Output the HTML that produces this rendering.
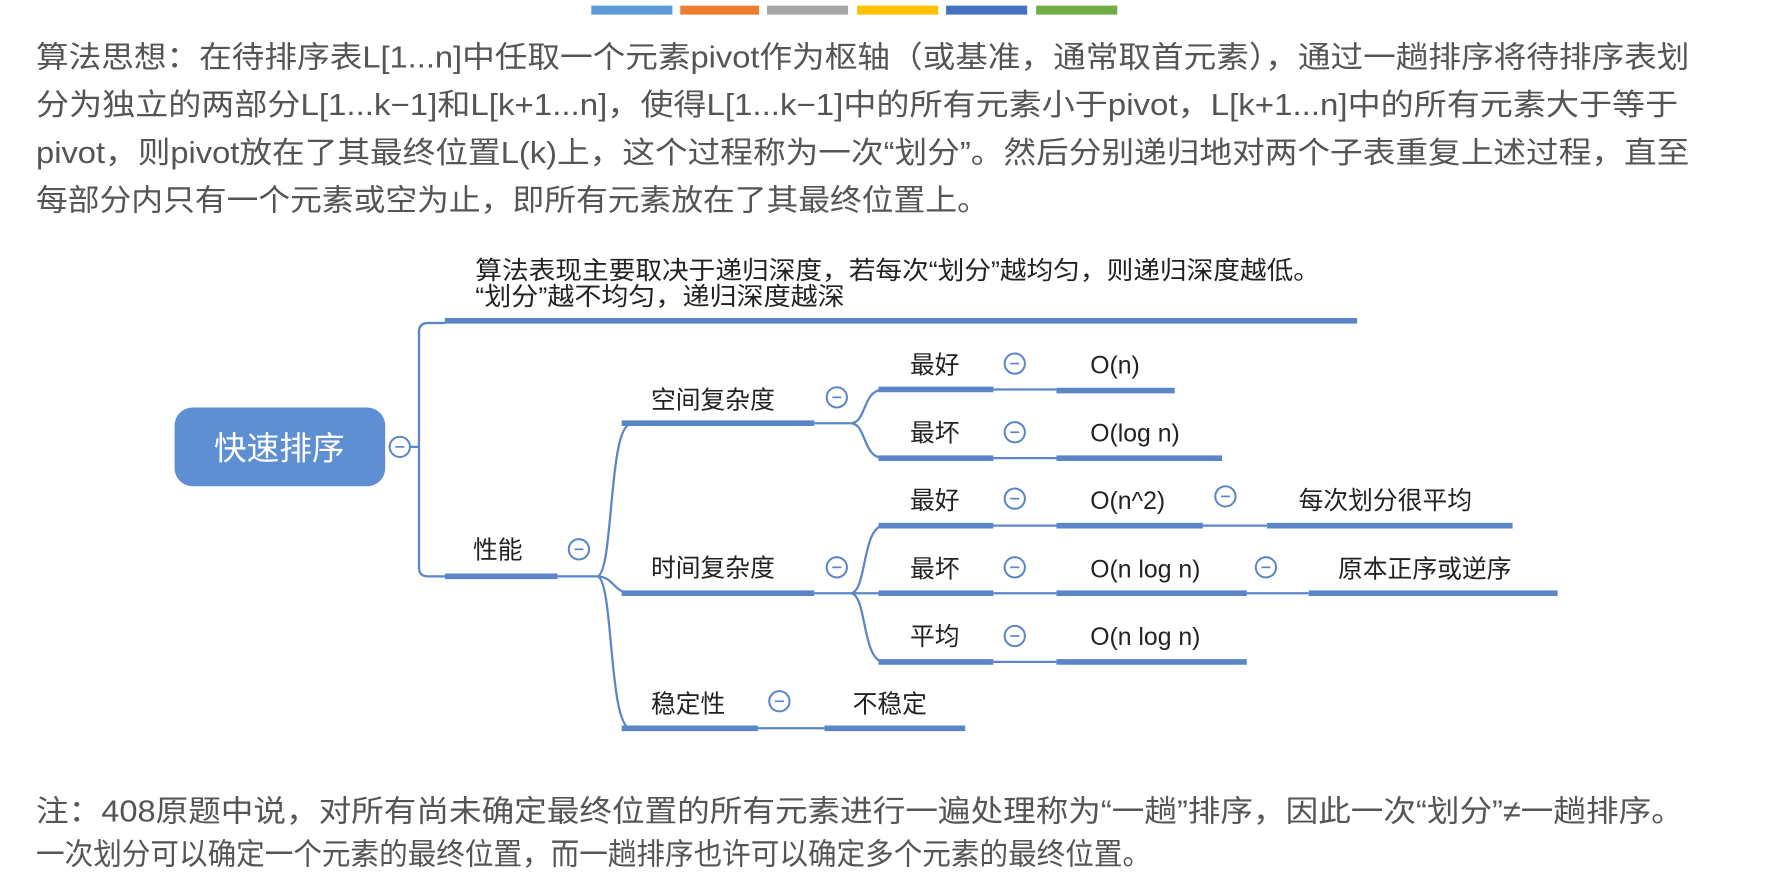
<!DOCTYPE html>
<html><head><meta charset="utf-8"><style>
html,body{margin:0;padding:0;background:#fff;}
svg{display:block;}
.p{font-family:"Liberation Sans","Noto Sans CJK SC",sans-serif;font-size:27px;fill:#555;}
.t{font-family:"Liberation Sans","Noto Sans CJK SC",sans-serif;font-size:22px;fill:#222;}
.u{stroke:#5a86c8;stroke-width:5;}
.c{stroke:#5a86c8;stroke-width:2;fill:none;}
.ci{fill:#fff;stroke:#5a86c8;stroke-width:1.8;}
</style></head><body>
<svg width="1766" height="878" viewBox="0 0 1568 780" preserveAspectRatio="none" xmlns="http://www.w3.org/2000/svg">
<rect x="525" y="5" width="72" height="8" fill="#5b9bd5"/>
<rect x="604" y="5" width="70" height="8" fill="#ed7d31"/>
<rect x="681" y="5" width="72" height="8" fill="#a5a5a5"/>
<rect x="761" y="5" width="72" height="8" fill="#ffc000"/>
<rect x="840" y="5" width="72" height="8" fill="#4472c4"/>
<rect x="920" y="5" width="72" height="8" fill="#70ad47"/>

<text class="p" x="32" y="60" textLength="1468" lengthAdjust="spacingAndGlyphs">算法思想：在待排序表L[1...n]中任取一个元素pivot作为枢轴（或基准，通常取首元素），通过一趟排序将待排序表划</text>
<text class="p" x="32" y="102" textLength="1458" lengthAdjust="spacingAndGlyphs">分为独立的两部分L[1...k−1]和L[k+1...n]，使得L[1...k−1]中的所有元素小于pivot，L[k+1...n]中的所有元素大于等于</text>
<text class="p" x="32" y="145" textLength="1468" lengthAdjust="spacingAndGlyphs">pivot，则pivot放在了其最终位置L(k)上，这个过程称为一次“划分”。然后分别递归地对两个子表重复上述过程，直至</text>
<text class="p" x="32" y="187" textLength="846" lengthAdjust="spacingAndGlyphs">每部分内只有一个元素或空为止，即所有元素放在了其最终位置上。</text>

<rect x="155" y="362" width="187" height="70" rx="16" fill="#5e8fd2"/>
<text x="248" y="408" text-anchor="middle" style="font-family:'Liberation Sans','Noto Sans CJK SC',sans-serif;font-size:29px;fill:#fff;">快速排序</text>
<line class="c" x1="345" y1="397" x2="372" y2="397"/>
<circle class="ci" cx="355" cy="397" r="9"/><line x1="351" y1="397" x2="359" y2="397" stroke="#5a86c8" stroke-width="1.5"/>

<path class="c" d="M395 287 H380 Q372 287 372 295 V504 Q372 512 380 512 H395"/>
<text class="t" x="422" y="248" textLength="750" lengthAdjust="spacingAndGlyphs">算法表现主要取决于递归深度，若每次“划分”越均匀，则递归深度越低。</text>
<text class="t" x="422" y="271" textLength="328" lengthAdjust="spacingAndGlyphs">“划分”越不均匀，递归深度越深</text>
<line class="u" x1="395" y1="285" x2="1205" y2="285"/>

<text class="t" x="420" y="496">性能</text>
<line class="u" x1="395" y1="512" x2="495" y2="512"/>
<line class="c" x1="495" y1="512" x2="530" y2="512"/>
<path class="c" d="M530 512 C545 512 540 377 560 377 M530 512 C545 512 545 527 560 527 M530 512 C545 512 540 647 560 647"/>

<text class="t" x="578" y="363">空间复杂度</text>
<line class="u" x1="552" y1="376" x2="723" y2="376"/>
<line class="c" x1="723" y1="376" x2="755" y2="376"/>
<path class="c" d="M755 376 C770 376 765 346 785 346 M755 376 C770 376 765 407 785 407"/>

<text class="t" x="808" y="332">最好</text><line class="u" x1="780" y1="346" x2="882" y2="346"/>
<line class="c" x1="882" y1="346" x2="938" y2="346"/>
<text class="t" x="968" y="332">O(n)</text><line class="u" x1="938" y1="347" x2="1043" y2="347"/>
<text class="t" x="808" y="392">最坏</text><line class="u" x1="780" y1="407" x2="882" y2="407"/>
<line class="c" x1="882" y1="407" x2="938" y2="407"/>
<text class="t" x="968" y="392">O(log n)</text><line class="u" x1="938" y1="407" x2="1085" y2="407"/>

<text class="t" x="578" y="512">时间复杂度</text>
<line class="u" x1="552" y1="527" x2="723" y2="527"/>
<line class="c" x1="723" y1="527" x2="755" y2="527"/>
<path class="c" d="M755 527 C770 527 765 467 785 467 M755 527 H785 M755 527 C770 527 765 588 785 588"/>

<text class="t" x="808" y="452">最好</text><line class="u" x1="780" y1="467" x2="882" y2="467"/>
<line class="c" x1="882" y1="467" x2="938" y2="467"/>
<text class="t" x="968" y="452">O(n^2)</text><line class="u" x1="938" y1="467" x2="1068" y2="467"/>
<line class="c" x1="1068" y1="467" x2="1125" y2="467"/>
<text class="t" x="1153" y="452">每次划分很平均</text><line class="u" x1="1125" y1="467" x2="1343" y2="467"/>

<text class="t" x="808" y="513">最坏</text><line class="u" x1="780" y1="527" x2="882" y2="527"/>
<line class="c" x1="882" y1="527" x2="938" y2="527"/>
<text class="t" x="968" y="513">O(n log n)</text><line class="u" x1="938" y1="527" x2="1107" y2="527"/>
<line class="c" x1="1107" y1="527" x2="1162" y2="527"/>
<text class="t" x="1188" y="513">原本正序或逆序</text><line class="u" x1="1162" y1="527" x2="1383" y2="527"/>

<text class="t" x="808" y="573">平均</text><line class="u" x1="780" y1="588" x2="882" y2="588"/>
<line class="c" x1="882" y1="588" x2="938" y2="588"/>
<text class="t" x="968" y="573">O(n log n)</text><line class="u" x1="938" y1="588" x2="1107" y2="588"/>

<text class="t" x="578" y="633">稳定性</text>
<line class="u" x1="552" y1="647" x2="673" y2="647"/>
<line class="c" x1="673" y1="647" x2="732" y2="647"/>
<text class="t" x="757" y="633">不稳定</text><line class="u" x1="732" y1="647" x2="857" y2="647"/>

<g>
<circle class="ci" cx="514" cy="488" r="9"/><line x1="510" y1="488" x2="518" y2="488" stroke="#5a86c8" stroke-width="1.5"/>
<circle class="ci" cx="743" cy="353" r="9"/><line x1="739" y1="353" x2="747" y2="353" stroke="#5a86c8" stroke-width="1.5"/>
<circle class="ci" cx="743" cy="504" r="9"/><line x1="739" y1="504" x2="747" y2="504" stroke="#5a86c8" stroke-width="1.5"/>
<circle class="ci" cx="901" cy="323" r="9"/><line x1="897" y1="323" x2="905" y2="323" stroke="#5a86c8" stroke-width="1.5"/>
<circle class="ci" cx="901" cy="384" r="9"/><line x1="897" y1="384" x2="905" y2="384" stroke="#5a86c8" stroke-width="1.5"/>
<circle class="ci" cx="901" cy="443" r="9"/><line x1="897" y1="443" x2="905" y2="443" stroke="#5a86c8" stroke-width="1.5"/>
<circle class="ci" cx="901" cy="504" r="9"/><line x1="897" y1="504" x2="905" y2="504" stroke="#5a86c8" stroke-width="1.5"/>
<circle class="ci" cx="901" cy="565" r="9"/><line x1="897" y1="565" x2="905" y2="565" stroke="#5a86c8" stroke-width="1.5"/>
<circle class="ci" cx="1088" cy="441" r="9"/><line x1="1084" y1="441" x2="1092" y2="441" stroke="#5a86c8" stroke-width="1.5"/>
<circle class="ci" cx="1124" cy="504" r="9"/><line x1="1120" y1="504" x2="1128" y2="504" stroke="#5a86c8" stroke-width="1.5"/>
<circle class="ci" cx="692" cy="623" r="9"/><line x1="688" y1="623" x2="696" y2="623" stroke="#5a86c8" stroke-width="1.5"/>
</g>

<text class="p" x="32" y="730" textLength="1463" lengthAdjust="spacingAndGlyphs">注：408原题中说，对所有尚未确定最终位置的所有元素进行一遍处理称为“一趟”排序，因此一次“划分”≠一趟排序。</text>
<text class="p" x="32" y="768" textLength="990" lengthAdjust="spacingAndGlyphs">一次划分可以确定一个元素的最终位置，而一趟排序也许可以确定多个元素的最终位置。</text>
</svg>
</body></html>
